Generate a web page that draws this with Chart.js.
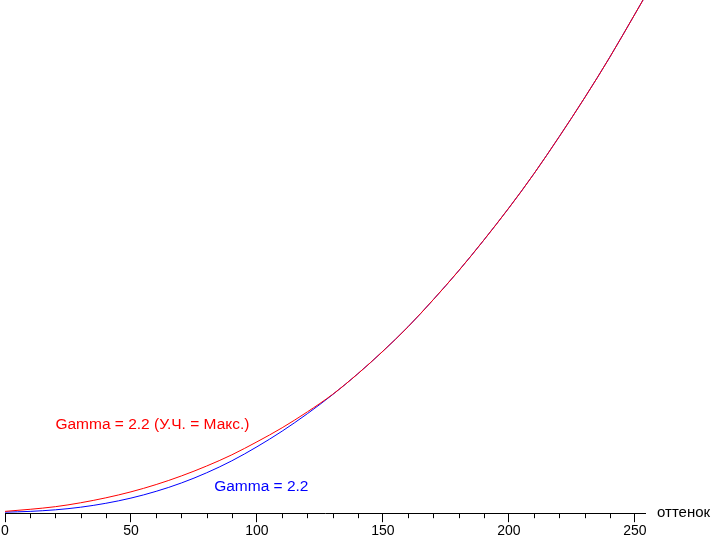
<!DOCTYPE html>
<html>
<head>
<meta charset="utf-8">
<script src="https://cdn.jsdelivr.net/npm/chart.js@4/dist/chart.umd.min.js"></script>
<style>
  html, body { margin: 0; padding: 0; background: #fff; }
  #wrap { width: 712px; height: 541px; position: relative; }
</style>
</head>
<body>
<div id="wrap"><canvas id="chart"></canvas></div>
<script>
const levels = [0, 10, 20, 30, 40, 50, 60, 70, 80, 90, 100, 110, 120, 130,
  140, 150, 160, 170, 180, 190, 200, 210, 220, 230, 240, 250, 255];

// brightness, % of max
const gammaRef = [0.2, 0.35, 0.65, 1.15, 1.9, 2.9, 4.2, 5.8, 7.75, 10.05, 12.75, 15.75, 19.1, 22.75,
  26.75, 31.1, 35.8, 41.0, 46.5, 52.4, 58.6, 65.2, 72.3, 79.7, 87.5, 95.8, 100.0];
const gammaMax = [0.35, 0.75, 1.25, 2.0, 2.95, 4.1, 5.5, 7.15, 9.05, 11.2, 13.7, 16.4, 19.45, 22.8,
  26.75, 31.1, 35.8, 41.0, 46.5, 52.4, 58.6, 65.2, 72.3, 79.7, 87.5, 95.8, 100.0];

const xTicks = [0, 50, 100, 150, 200, 250];
const xTitle = "оттенок";
const labelMax = "Gamma = 2.2 (У.Ч. = Макс.)";
const labelRef = "Gamma = 2.2";

const FONT = '"Liberation Sans", Arial, sans-serif';

const toPoints = (ys) => levels.map((x, i) => ({ x: x, y: ys[i] }));

// minor ticks, text labels, axis title
const extras = {
  id: "extras",
  afterDraw(chart) {
    const ctx = chart.ctx;
    const xs = chart.scales.x;
    const ys = chart.scales.y;
    const bottom = chart.chartArea.bottom;
    ctx.save();
    ctx.strokeStyle = "#000";
    ctx.lineWidth = 1;
    for (let v = 10; v <= 250; v += 10) {
      if (v % 50 === 0) continue;
      const px = Math.round(xs.getPixelForValue(v)) + 0.5;
      ctx.beginPath();
      ctx.moveTo(px, bottom);
      ctx.lineTo(px, bottom + 5);
      ctx.stroke();
    }
    ctx.font = "15px " + FONT;
    ctx.fillStyle = "#000";
    ctx.textBaseline = "middle";
    ctx.textAlign = "left";
    ctx.fillText(xTitle, chart.chartArea.right + 12, bottom);

    ctx.font = "15.5px " + FONT;
    ctx.fillStyle = "#ff0000";
    ctx.fillText(labelMax, xs.getPixelForValue(20), ys.getPixelForValue(16.9));
    ctx.fillStyle = "#0000ff";
    ctx.fillText(labelRef, xs.getPixelForValue(83), ys.getPixelForValue(5.0));
    ctx.restore();
  }
};

new Chart(document.getElementById("chart"), {
  type: "line",
  data: {
    datasets: [
      {
        data: toPoints(gammaMax),
        borderColor: "#ff0000",
        borderWidth: 1,
        pointRadius: 0,
        cubicInterpolationMode: "monotone",
      },
      {
        data: toPoints(gammaRef),
        borderColor: "#0000ff",
        borderWidth: 1,
        pointRadius: 0,
        cubicInterpolationMode: "monotone",
      },
    ],
  },
  options: {
    responsive: true,
    maintainAspectRatio: false,
    animation: false,
    layout: { padding: { left: 5, right: 67, top: 0, bottom: 0 } },
    plugins: { legend: { display: false }, tooltip: { enabled: false } },
    scales: {
      x: {
        type: "linear",
        min: 0,
        max: 254,
        afterBuildTicks: (scale) => {
          scale.ticks = xTicks.map((v) => ({ value: v }));
        },
        grid: {
          drawOnChartArea: false,
          drawTicks: true,
          tickLength: 9,
          tickColor: "#000",
        },
        border: { display: true, color: "#000", width: 1 },
        ticks: {
          color: "#000",
          font: { family: FONT, size: 14 },
          padding: 1,
          maxRotation: 0,
          autoSkip: false,
        },
      },
      y: {
        display: false,
        min: 0,
        max: 98.5,
      },
    },
  },
  plugins: [extras],
});
</script>
</body>
</html>
